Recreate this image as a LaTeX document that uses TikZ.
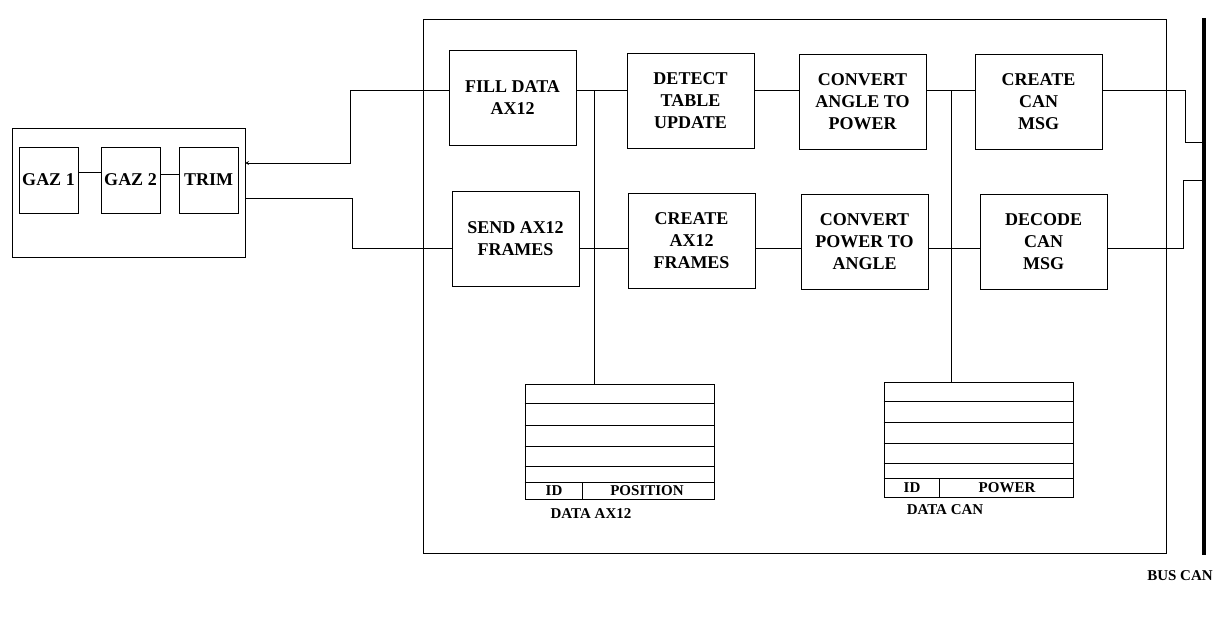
\documentclass[tikz,border=0pt]{standalone}
\usepackage{fontspec}
\setmainfont{Liberation Serif}
\begin{document}
\begin{tikzpicture}[>=stealth, x=1pt, y=-1pt, line width=0.8pt,
    procbox/.style={draw, minimum width=127pt, minimum height=95pt, inner sep=0pt,
        align=center, font=\bfseries\fontsize{18}{22}\selectfont},
    gazbox/.style={draw, minimum width=59pt, minimum height=66pt, inner sep=0pt,
        font=\bfseries\fontsize{18}{22}\selectfont},
    tabbox/.style={draw, minimum width=189pt, minimum height=115pt, inner sep=0pt},
    celltext/.style={inner sep=0pt, font=\bfseries\fontsize{15}{17}\selectfont}]
        \useasboundingbox (0,0) rectangle (1222,618);

        % ===== control unit =====
        \node[draw, minimum width=233pt, minimum height=129pt] (ctrl) at (128.5,192.5) {};
        \node[gazbox] (gaz1) at (48.5,180) {GAZ 1};
        \node[gazbox] (gaz2) at (130.5,180) {GAZ 2};
        \node[gazbox] (trim) at (208.5,180) {TRIM};
        \draw ([yshift=8pt]gaz1.east) -- ([yshift=8pt]gaz2.west);
        \draw ([yshift=6pt]gaz2.east) -- ([yshift=6pt]trim.west);
        \coordinate (inA) at (245,163);
        \coordinate (outA) at (245,198);

        % ===== main board =====
        \node[draw, minimum width=743pt, minimum height=534pt] (core) at (794.5,286) {};
        \coordinate (toprow) at (0,90);
        \coordinate (botrow) at (0,248);

        \node[procbox] (fill)   at (512.5,97.5)  {FILL DATA\\AX12};
        \node[procbox] (detect) at (690.5,100.5) {DETECT\\TABLE\\UPDATE};
        \node[procbox] (atop)   at (862.5,101.5) {CONVERT\\ANGLE TO\\POWER};
        \node[procbox] (cmsg)   at (1038.5,101.5) {CREATE\\CAN\\MSG};

        \node[procbox] (send)   at (515.5,238.5) {SEND AX12\\FRAMES};
        \node[procbox] (cframe) at (691.5,240.5) {CREATE\\AX12\\FRAMES};
        \node[procbox] (ptoa)   at (864.5,241.5) {CONVERT\\POWER TO\\ANGLE};
        \node[procbox] (dmsg)   at (1043.5,241.5) {DECODE\\CAN\\MSG};

        \draw (fill.east |- toprow) -- (detect.west |- toprow);
        \draw (detect.east |- toprow) -- (atop.west |- toprow);
        \draw (atop.east |- toprow) -- (cmsg.west |- toprow);
        \draw (send.east |- botrow) -- (cframe.west |- botrow);
        \draw (cframe.east |- botrow) -- (ptoa.west |- botrow);
        \draw (ptoa.east |- botrow) -- (dmsg.west |- botrow);

        \draw[->] (fill.west |- toprow) -- ++(-98,0) |- (inA);
        \draw (outA) -- ++(107,0) |- (send.west |- botrow);

        % ===== tables =====
        \node[tabbox] (tabA) at (619.5,441.5) {};
        \foreach \dy in {20,42,63,83,99}
            \draw (tabA.north west) ++(0,\dy) -- ++(189,0);
        \draw ([xshift=58pt]tabA.south west) -- ++(0,-16);
        \node[celltext] (idA)  at (554,491) {ID};
        \node[celltext] (posA) at (647,491) {POSITION};
        \node[celltext] (capA) at (591,514) {DATA AX12};

        \node[tabbox] (tabC) at (978.5,439.5) {};
        \foreach \dy in {20,41,62,82,97}
            \draw (tabC.north west) ++(0,\dy) -- ++(189,0);
        \draw ([xshift=56pt]tabC.south west) -- ++(0,-18);
        \node[celltext] (idC)  at (912,488) {ID};
        \node[celltext] (powC) at (1007,488) {POWER};
        \node[celltext] (capC) at (945,510) {DATA CAN};

        \draw ([xshift=-25.5pt]tabA.north) -- ([xshift=-25.5pt]tabA.north |- toprow);
        \draw ([xshift=-27.5pt]tabC.north) -- ([xshift=-27.5pt]tabC.north |- toprow);

        % ===== bus =====
        \coordinate (bustop) at (1204,18);
        \coordinate (busbot) at (1204,555);
        \draw[line width=4.5pt] (bustop) -- (busbot);
        \node[celltext] (busA) at (1180,576) {BUS CAN};

        \draw (cmsg.east |- toprow) -- ++(83,0) |- (bustop |- 0,142);
        \draw (dmsg.east |- botrow) -- ++(76,0) |- (bustop |- 0,180);
    \end{tikzpicture}
\end{document}
